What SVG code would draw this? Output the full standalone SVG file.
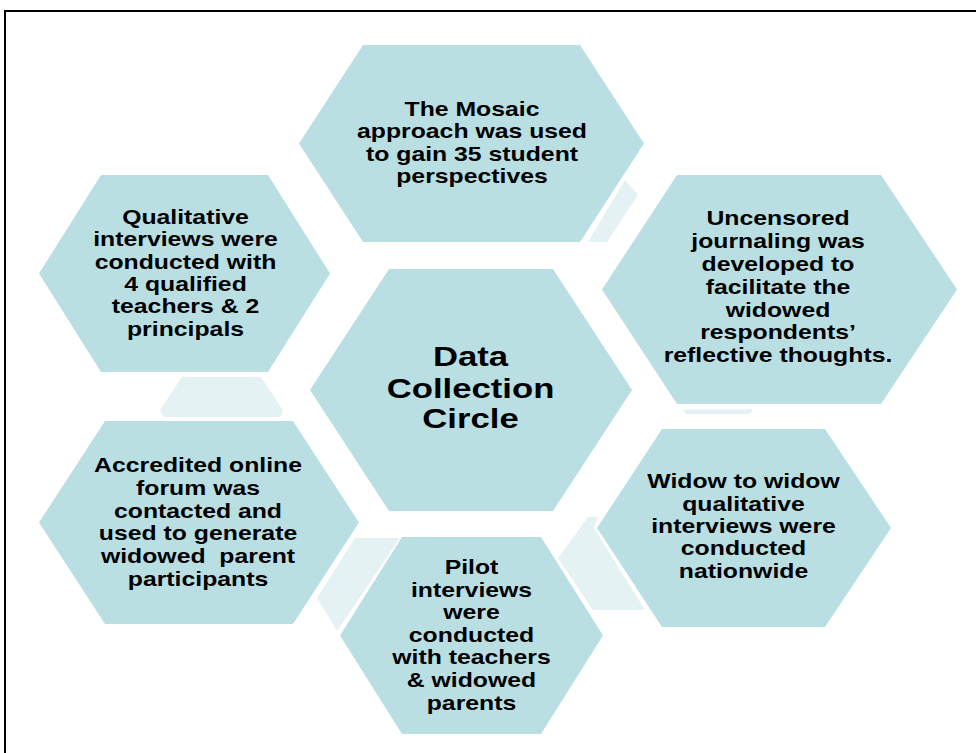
<svg xmlns="http://www.w3.org/2000/svg" width="976" height="753" viewBox="0 0 976 753">
<style>
.hex{fill:#B9DFE3;}
.ghost{fill:#E4F2F4;}
.t{font-family:"Liberation Sans",Arial,sans-serif;font-weight:bold;font-size:20px;fill:#000;text-anchor:middle;}
.tc{font-family:"Liberation Sans",Arial,sans-serif;font-weight:bold;font-size:28px;fill:#000;text-anchor:middle;}
</style>
<rect x="0" y="0" width="976" height="753" fill="#fff"/>
<rect x="5" y="11" width="1000" height="800" fill="none" stroke="#000" stroke-width="2"/>
<g id="connectors">
  <polygon class="ghost" points="588,242 625,180 638,195 607,242"/>
  <polygon class="ghost" points="683,409.5 753,409.5 750,414 686,414"/>
  <polygon class="ghost" points="588,517 598,517 594,528 645,610 593,610 558,558"/>
  <polygon class="ghost" points="355,538 400,538 337,631 317,598"/>
  <polygon class="ghost" points="182,377 261,377 283,410 280,417 164,417 160,410"/>
</g>
<g id="node-top">
  <polygon class="hex" points="299,143.5 363,45 580,45 644,143.5 580,242 363,242"/>
  <g transform="translate(472,0) scale(1.24,1)">
    <text class="t" x="0" y="116">The Mosaic</text>
    <text class="t" x="0" y="138.5">approach was used</text>
    <text class="t" x="0" y="161">to gain 35 student</text>
    <text class="t" x="0" y="183.5">perspectives</text>
  </g>
</g>
<g id="node-journaling">
  <polygon class="hex" points="602,289.5 677,175 881,175 957,289.5 881,404 677,404"/>
  <g transform="translate(778,0) scale(1.24,1)">
    <text class="t" x="0" y="225.5">Uncensored</text>
    <text class="t" x="0" y="248.3">journaling was</text>
    <text class="t" x="0" y="271.1">developed to</text>
    <text class="t" x="0" y="293.9">facilitate the</text>
    <text class="t" x="0" y="316.7">widowed</text>
    <text class="t" x="0" y="339.5">respondents’</text>
    <text class="t" x="0" y="362.3">reflective thoughts.</text>
  </g>
</g>
<g id="node-qualitative">
  <polygon class="hex" points="39,273.5 101,175 268,175 330,273.5 268,372 101,372"/>
  <g transform="translate(185.5,0) scale(1.24,1)">
    <text class="t" x="0" y="224">Qualitative</text>
    <text class="t" x="0" y="246.3">interviews were</text>
    <text class="t" x="0" y="268.6">conducted with</text>
    <text class="t" x="0" y="291">4 qualified</text>
    <text class="t" x="0" y="313.4">teachers &amp; 2</text>
    <text class="t" x="0" y="335.7">principals</text>
  </g>
</g>
<g id="node-center">
  <polygon class="hex" points="310,390 389,269 553,269 632,390 553,511 389,511"/>
  <g transform="translate(470.5,0) scale(1.24,1)">
    <text class="tc" x="0" y="366.5">Data</text>
    <text class="tc" x="0" y="398">Collection</text>
    <text class="tc" x="0" y="428.5">Circle</text>
  </g>
</g>
<g id="node-accredited">
  <polygon class="hex" points="39,522.5 105,421 293,421 359,522.5 293,624 105,624"/>
  <g transform="translate(198,0) scale(1.24,1)">
    <text class="t" x="0" y="472.3">Accredited online</text>
    <text class="t" x="0" y="495">forum was</text>
    <text class="t" x="0" y="517.7">contacted and</text>
    <text class="t" x="0" y="540.4">used to generate</text>
    <text class="t" x="0" y="563.1" xml:space="preserve">widowed  parent</text>
    <text class="t" x="0" y="585.8">participants</text>
  </g>
</g>
<g id="node-widow">
  <polygon class="hex" points="597,528 662,429 825,429 891,528 825,627 662,627"/>
  <g transform="translate(743.5,0) scale(1.24,1)">
    <text class="t" x="0" y="488.3">Widow to widow</text>
    <text class="t" x="0" y="510.7">qualitative</text>
    <text class="t" x="0" y="533.1">interviews were</text>
    <text class="t" x="0" y="555.5">conducted</text>
    <text class="t" x="0" y="577.9">nationwide</text>
  </g>
</g>
<g id="node-pilot">
  <polygon class="hex" points="340,635.5 402,537 541,537 603,635.5 541,734 402,734"/>
  <g transform="translate(471.5,0) scale(1.24,1)">
    <text class="t" x="0" y="574">Pilot</text>
    <text class="t" x="0" y="596.6">interviews</text>
    <text class="t" x="0" y="619.2">were</text>
    <text class="t" x="0" y="641.8">conducted</text>
    <text class="t" x="0" y="664.4">with teachers</text>
    <text class="t" x="0" y="687">&amp; widowed</text>
    <text class="t" x="0" y="709.6">parents</text>
  </g>
</g>
</svg>
